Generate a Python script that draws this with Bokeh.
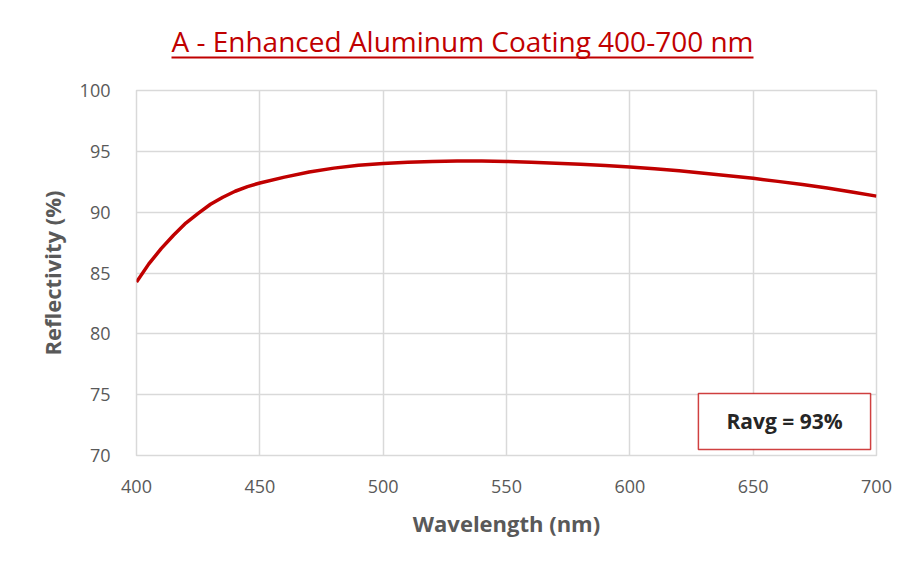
from bokeh.plotting import figure
from bokeh.models import BoxAnnotation, Label, FixedTicker, Range1d
from bokeh.layouts import column
from bokeh.core.properties import value
from bokeh.embed import file_html
from bokeh.resources import INLINE

# Data
wavelength = [400, 405, 410, 415, 420, 425, 430, 435, 440, 445, 450,
              460, 470, 480, 490, 500, 510, 520, 530, 540, 550,
              560, 570, 580, 590, 600, 610, 620, 630, 640, 650,
              660, 670, 680, 690, 700]
reflectivity = [84.25, 85.75, 87.0, 88.1, 89.1, 89.9, 90.65, 91.23, 91.72, 92.1, 92.4,
                92.88, 93.3, 93.62, 93.86, 94.0, 94.1, 94.17, 94.2, 94.2, 94.17,
                94.11, 94.03, 93.94, 93.84, 93.71, 93.56, 93.4, 93.2, 93.0, 92.78,
                92.53, 92.27, 91.98, 91.66, 91.32]
x_ticks = [400, 450, 500, 550, 600, 650, 700]
y_ticks = [70, 75, 80, 85, 90, 95, 100]
title_text = "A - Enhanced Aluminum Coating 400-700 nm"
ravg_text = "Ravg = 93%"
ravg_box = dict(left=627.8, right=697.6, bottom=70.5, top=75.1)

RED = "#C00000"
GRAY = "#595959"
FONT = "Open Sans"
W = 904

# Header with underlined title (frame is aligned with the main plot's frame)
hdr = figure(width=W, height=70, output_backend="svg", toolbar_location=None,
             x_range=Range1d(136, 876), y_range=Range1d(70, 0),
             min_border=0)
hdr.axis.visible = False
hdr.grid.visible = False
hdr.outline_line_color = None
hdr.text(x=[462], y=[40], text=[title_text], text_align="center", text_baseline="middle",
         text_font=value(FONT), text_font_size="28px", text_color=RED)
hdr.segment(x0=[171], y0=[57], x1=[753], y1=[57], line_color=RED, line_width=2)

p = figure(width=W, height=486, output_backend="svg", toolbar_location=None,
           x_range=Range1d(400, 700), y_range=Range1d(70, 100),
           min_border_left=136, min_border_right=28, min_border_top=20, min_border_bottom=101)

p.line(wavelength, reflectivity, line_color=RED, line_width=3.5, line_join="round")

for ax in (p.xaxis, p.yaxis):
    ax.axis_line_color = None
    ax.major_tick_line_color = None
    ax.minor_tick_line_color = None
    ax.major_label_text_font = FONT
    ax.major_label_text_font_size = "18px"
    ax.major_label_text_color = GRAY
    ax.axis_label_text_font = FONT
    ax.axis_label_text_font_size = "22px"
    ax.axis_label_text_font_style = "bold"
    ax.axis_label_text_color = GRAY

p.xaxis.ticker = FixedTicker(ticks=x_ticks)
p.yaxis.ticker = FixedTicker(ticks=y_ticks)
p.xaxis.axis_label = "Wavelength (nm)"
p.yaxis.axis_label = "Reflectivity (%)"
p.xaxis.major_label_standoff = 18
p.yaxis.major_label_standoff = 20
p.xaxis.axis_label_standoff = 12
p.yaxis.axis_label_standoff = 10

p.xgrid.ticker = FixedTicker(ticks=x_ticks)
p.ygrid.ticker = FixedTicker(ticks=y_ticks)
p.xgrid.grid_line_color = "#d9d9d9"
p.ygrid.grid_line_color = "#d9d9d9"
p.xgrid.grid_line_width = 1.5
p.ygrid.grid_line_width = 1.5
p.outline_line_color = "#d9d9d9"
p.outline_line_width = 1.5

# Ravg box
p.add_layout(BoxAnnotation(**ravg_box, fill_color="white", fill_alpha=1.0,
                           line_color=RED, line_alpha=0.75, line_width=1.5))
p.add_layout(Label(x=(ravg_box["left"] + ravg_box["right"]) / 2,
                   y=(ravg_box["bottom"] + ravg_box["top"]) / 2,
                   text=ravg_text, text_align="center", text_baseline="middle",
                   text_font=FONT, text_font_size="21px", text_font_style="bold",
                   text_color="#262626"))

layout = column(hdr, p, spacing=0)
open("out.html", "w").write(file_html(layout, INLINE))
